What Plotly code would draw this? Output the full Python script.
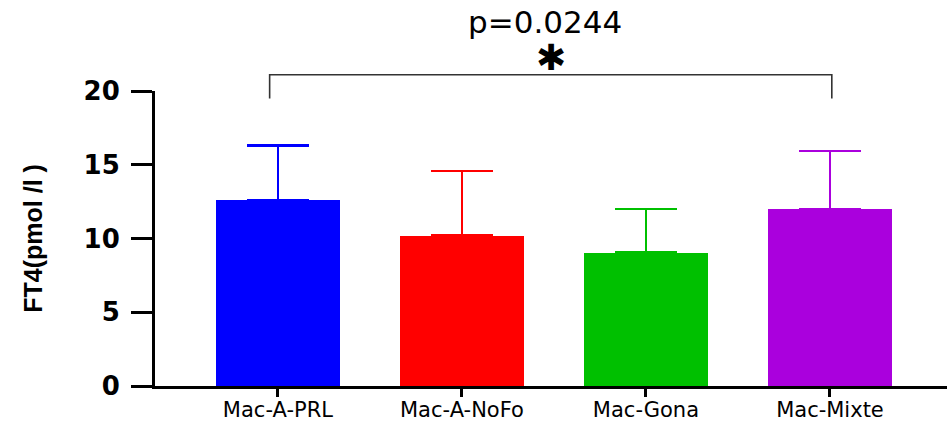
import plotly.graph_objects as go

categories = ["Mac-A-PRL", "Mac-A-NoFo", "Mac-Gona", "Mac-Mixte"]
means = [12.6, 10.2, 9.05, 12.0]
errors = [3.7, 4.4, 2.95, 3.95]
colors = ["#0000FF", "#FF0000", "#00C000", "#AA00DD"]
y_ticks = [0, 5, 10, 15, 20]
y_title = "FT4(pmol /l )"
p_text = "p=0.0244"
star_text = "✱"
bracket_from, bracket_to = -0.045, 3.01
bracket_top, bracket_bottom = 21.1, 19.5
star_y, p_y = 22.3, 24.7
y_max = 20

fig = go.Figure()
for i, (m, e, c) in enumerate(zip(means, errors, colors)):
    fig.add_trace(go.Bar(
        x=[i], y=[m], width=0.67,
        marker=dict(color=c, line=dict(width=0)),
        error_y=dict(type="data", array=[e], arrayminus=[0], symmetric=False,
                     width=31, thickness=2.2, color=c),
        showlegend=False,
    ))

# significance bracket (x in data units, y in paper derived from data range)
fig.add_shape(type="path",
              xref="x", yref="paper",
              path=(f"M {bracket_from} {bracket_bottom / y_max} "
                    f"L {bracket_from} {bracket_top / y_max} "
                    f"L {bracket_to} {bracket_top / y_max} "
                    f"L {bracket_to} {bracket_bottom / y_max}"),
              line=dict(color="#333333", width=1.6))

mid = (bracket_from + bracket_to) / 2
fig.add_annotation(x=mid, y=star_y / y_max, xref="x", yref="paper",
                   text=star_text, showarrow=False,
                   font=dict(family="DejaVu Sans", size=36, color="black", weight="bold"),
                   yanchor="middle")
fig.add_annotation(x=mid - 0.03, y=p_y / y_max, xref="x", yref="paper",
                   text=p_text, showarrow=False,
                   font=dict(family="DejaVu Sans", size=31, color="black"),
                   yanchor="middle")
# y axis title
fig.add_annotation(x=-0.155, y=0.5, xref="paper", yref="paper",
                   text=y_title, showarrow=False, textangle=-90,
                   font=dict(family="Liberation Sans Narrow, Liberation Sans", size=25,
                             color="black", weight="bold"),
                   xanchor="center", yanchor="middle")

fig.update_layout(
    width=947, height=423,
    margin=dict(l=155, r=0, t=91, b=37),
    paper_bgcolor="white", plot_bgcolor="white",
    bargap=0,
    font=dict(family="DejaVu Sans", color="black"),
)
fig.update_xaxes(
    range=[-0.668, 3.636],
    tickvals=list(range(len(categories))), ticktext=categories,
    showline=True, linecolor="black", linewidth=3,
    ticks="outside", ticklen=8, tickwidth=3, tickcolor="black",
    ticklabelstandoff=-5,
    tickfont=dict(family="DejaVu Sans", size=21, color="black"),
    showgrid=False, zeroline=False, fixedrange=True, automargin=False,
)
fig.update_yaxes(
    range=[0, y_max],
    tickvals=y_ticks,
    showline=True, linecolor="black", linewidth=3,
    ticks="outside", ticklen=21, tickwidth=3, tickcolor="black",
    ticklabelstandoff=6,
    tickfont=dict(family="DejaVu Sans", size=26, color="black", weight="bold"),
    showgrid=False, zeroline=False, fixedrange=True, automargin=False,
)

fig.write_html("out.html")
